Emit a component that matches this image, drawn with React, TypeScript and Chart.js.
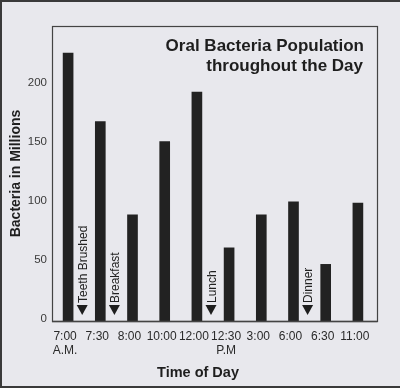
import React, { useEffect, useRef } from "react";
import { Chart, registerables } from "chart.js";

Chart.register(...registerables);

const categories: (string | string[])[] = [
  ["7:00", "A.M."], "7:30", "8:00", "10:00", "12:00", ["12:30", "P.M"], "3:00", "6:00", "6:30", "11:00",
];
const bacteria = [227, 169, 90, 152, 194, 62, 90, 101, 48, 100];
const yTicks = [0, 50, 100, 150, 200];
const eventLabels = ["Teeth Brushed", "Breakfast", "Lunch", "Dinner"];
const eventAfterIndex = [0, 1, 4, 7];
const titleLines = ["Oral Bacteria Population", "throughout the Day"];
const xTitle = "Time of Day";
const yTitle = "Bacteria in Millions";

const FONT = "'Liberation Sans', Arial, Helvetica, sans-serif";

export default function App() {
  const ref = useRef<HTMLCanvasElement | null>(null);
  useEffect(() => {
    document.body.style.margin = "0";
    const canvas = ref.current!;
    const decor = {
      id: "decor",
      beforeDraw(chart: any) {
        const { ctx, width, height } = chart;
        ctx.save();
        ctx.fillStyle = "#e8e8ed";
        ctx.fillRect(0, 0, width, height);
        ctx.strokeStyle = "#3a3a3a";
        ctx.lineWidth = 2;
        ctx.beginPath();
        ctx.moveTo(1, height);
        ctx.lineTo(1, 1);
        ctx.lineTo(width, 1);
        ctx.moveTo(0, height - 1);
        ctx.lineTo(width, height - 1);
        ctx.stroke();
        ctx.restore();
      },
      afterDatasetsDraw(chart: any) {
        const { ctx, chartArea } = chart;
        const { left, right, top, bottom } = chartArea;
        const xs = chart.scales.x;
        ctx.save();
        // frame
        ctx.strokeStyle = "#444";
        ctx.lineWidth = 1.2;
        ctx.strokeRect(left + 0.5, top + 0.5, right + 3 - left, bottom - top);
        ctx.lineWidth = 1.6;
        ctx.beginPath();
        ctx.moveTo(left, bottom + 0.5);
        ctx.lineTo(right + 3.5, bottom + 0.5);
        ctx.stroke();
        // title
        ctx.fillStyle = "#1e1e1e";
        ctx.font = `bold 17px ${FONT}`;
        ctx.textAlign = "right";
        ctx.textBaseline = "alphabetic";
        ctx.fillText(titleLines[0], right - 10, top + 25);
        ctx.fillText(titleLines[1], right - 11, top + 45);
        // x title
        ctx.font = `bold 14.5px ${FONT}`;
        ctx.textAlign = "center";
        ctx.fillText(xTitle, chart.width / 2 - 2, 377);
        // y title
        ctx.save();
        ctx.translate(20, (top + bottom) / 2);
        ctx.rotate(-Math.PI / 2);
        ctx.font = `bold 14px ${FONT}`;
        ctx.textAlign = "center";
        ctx.fillText(yTitle, 0, 0);
        ctx.restore();
        // events
        eventLabels.forEach((lab, i) => {
          const k = eventAfterIndex[i];
          const cx = (xs.getPixelForValue(k) + xs.getPixelForValue(k + 1)) / 2 - 2;
          ctx.fillStyle = "#1e1e1e";
          ctx.beginPath();
          ctx.moveTo(cx - 5.5, bottom - 16);
          ctx.lineTo(cx + 5.5, bottom - 16);
          ctx.lineTo(cx, bottom - 6);
          ctx.closePath();
          ctx.fill();
          ctx.save();
          ctx.translate(cx + 1.5, bottom - 18);
          ctx.rotate(-Math.PI / 2);
          ctx.font = `12px ${FONT}`;
          ctx.textAlign = "left";
          ctx.textBaseline = "middle";
          ctx.fillStyle = "#222";
          ctx.fillText(lab, 0, 0);
          ctx.restore();
        });
        ctx.restore();
      },
    };
    const chart = new Chart(canvas, {
      type: "bar",
      data: {
        labels: categories as any,
        datasets: [
          {
            data: bacteria,
            backgroundColor: "#222222",
            barThickness: 10,
          },
        ],
      },
      options: {
        responsive: false,
        animation: false,
        layout: { padding: { top: 26, right: 26, left: 0, bottom: 0 } },
        plugins: { legend: { display: false }, tooltip: { enabled: false } },
        scales: {
          x: {
            grid: { display: false, drawTicks: false },
            border: { display: false },
            ticks: {
              color: "#2a2a2a",
              font: { family: FONT, size: 12 },
              padding: 8,
              labelOffset: -3,
              maxRotation: 0,
              autoSkip: false,
            },
            afterFit(scale: any) {
              scale.height = 67;
            },
          },
          y: {
            min: 0,
            max: 250,
            grid: { display: false, drawTicks: false },
            border: { display: false },
            afterBuildTicks(scale: any) {
              scale.ticks = yTicks.map((v) => ({ value: v }));
            },
            ticks: {
              color: "#3a3a3a",
              font: { family: FONT, size: 11.5 },
              padding: 5,
              labelOffset: -2,
            },
            afterFit(scale: any) {
              scale.width = 52;
            },
          },
        },
      },
      plugins: [decor],
    });
    return () => chart.destroy();
  }, []);
  return (
    <div style={{ width: 400, height: 388 }}>
      <canvas ref={ref} width={400} height={388} />
    </div>
  );
}
